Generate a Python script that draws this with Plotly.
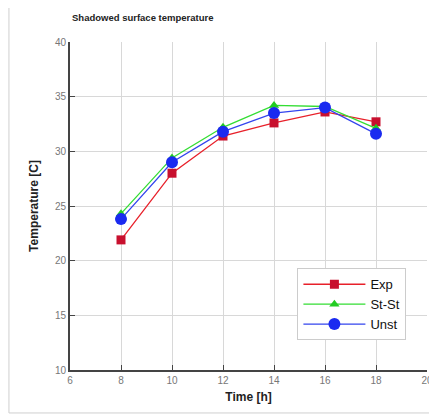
import plotly.graph_objects as go

time_h = [8, 10, 12, 14, 16, 18]
exp_vals = [21.9, 28.0, 31.4, 32.6, 33.6, 32.7]
stst_vals = [24.3, 29.4, 32.2, 34.2, 34.1, 32.1]
unst_vals = [23.8, 29.0, 31.8, 33.5, 34.0, 31.6]

x_ticks = [6, 8, 10, 12, 14, 16, 18, 20]
y_ticks = [10, 15, 20, 25, 30, 35, 40]

fig = go.Figure()
fig.add_trace(go.Scatter(x=time_h, y=exp_vals, name="Exp", mode="lines+markers",
                         line=dict(color="#e8202a", width=1.3),
                         marker=dict(symbol="square", size=9, color="#c8102e")))
fig.add_trace(go.Scatter(x=time_h, y=stst_vals, name="St-St", mode="lines+markers",
                         line=dict(color="#33dd33", width=1.3),
                         marker=dict(symbol="triangle-up", size=9, color="#22cc22")))
fig.add_trace(go.Scatter(x=time_h, y=unst_vals, name="Unst", mode="lines+markers",
                         line=dict(color="#3344ee", width=1.3),
                         marker=dict(symbol="circle", size=12, color="#1a2af0")))

fig.update_layout(
    width=437, height=418,
    margin=dict(l=62, r=13, t=34, b=56),
    paper_bgcolor="white", plot_bgcolor="white",
    font=dict(family="Liberation Sans, Arial, sans-serif", color="#222"),
    showlegend=True,
    legend=dict(x=0.637, y=0.31, xanchor="left", yanchor="top",
                bgcolor="white", bordercolor="#cccccc", borderwidth=1,
                font=dict(size=13, color="#111"), tracegroupgap=0,
                itemwidth=62),
)
fig.add_annotation(text="<b>Shadowed surface temperature</b>",
                   x=0.0, y=1.0, xref="paper", yref="paper",
                   xanchor="left", yanchor="bottom", yshift=17,
                   showarrow=False, font=dict(size=9.5, color="#222"))

fig.update_xaxes(range=[6, 20], tickvals=x_ticks, ticks="inside", ticklen=5,
                 tickcolor="#444", showline=True, linecolor="#444", linewidth=2,
                 showgrid=True, gridcolor="#d8d8d8", gridwidth=1,
                 tickfont=dict(size=10, color="#777"),
                 title=dict(text="<b>Time [h]</b>", font=dict(size=12, color="#222"), standoff=8),
                 zeroline=False, mirror=False)
fig.update_yaxes(range=[10, 40], tickvals=y_ticks, ticks="inside", ticklen=5,
                 tickcolor="#444", showline=True, linecolor="#444", linewidth=2,
                 showgrid=True, gridcolor="#d8d8d8", gridwidth=1,
                 tickfont=dict(size=10, color="#777"),
                 title=dict(text="<b>Temperature [C]</b>", font=dict(size=12, color="#222"), standoff=14),
                 zeroline=False)

# outer frame
fig.add_shape(type="rect", xref="paper", yref="paper",
              x0=-0.171, x1=1.05, y0=-0.131, y1=1.15,
              line=dict(color="#cfcfcf", width=1), layer="below")

fig.write_html("out.html")
